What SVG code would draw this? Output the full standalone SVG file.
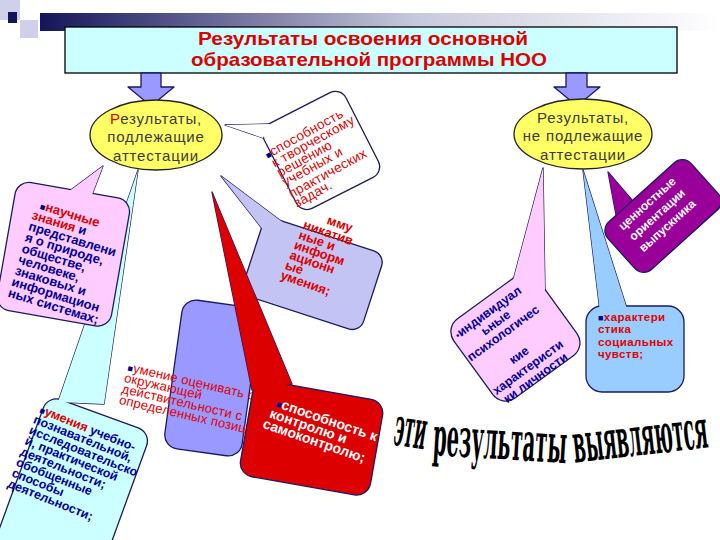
<svg xmlns="http://www.w3.org/2000/svg" width="720" height="540" viewBox="0 0 720 540">
<defs>
<linearGradient id="bar" x1="0" x2="1" y1="0" y2="0">
<stop offset="0" stop-color="#14145a"/>
<stop offset="0.55" stop-color="#c8c8dc"/>
<stop offset="1" stop-color="#ffffff"/>
</linearGradient>
</defs>
<style>
text{font-family:"Liberation Sans","DejaVu Sans",Arial,sans-serif}
.ttl{font-size:19px;font-weight:bold;fill:#dd0000;text-anchor:middle}
.ell{font-size:15px;fill:#3a3a3a;text-anchor:middle;letter-spacing:0.8px}
.ln{stroke:#1a1a60;stroke-width:1.3;stroke-linejoin:round}
.nl{stroke:none}
.bt{font-size:12.5px;font-weight:bold;fill:#00009a}
.bt2{font-size:13px;font-weight:bold;fill:#00009a}
.rt{font-size:13px;font-weight:bold;fill:#e00000}
.rs{font-size:11.5px;font-weight:bold;fill:#e00000;letter-spacing:0.4px}
.rn{font-size:13px;fill:#e00000;letter-spacing:0.2px}
.rw{font-size:13.5px;fill:#e00000;letter-spacing:0.3px}
.wt{font-size:14px;font-weight:bold;fill:#ffffff}
.wt2{font-size:12px;font-weight:bold;fill:#ffffff;text-anchor:middle}
.r{fill:#e00000}
.bul{fill:#000080;font-size:9px}
.big{font-family:"DejaVu Serif","Liberation Serif",serif;font-weight:bold;font-size:54px;fill:#000;text-anchor:middle}
.pink{fill:#ffccff}
.cyan{fill:#ccffff}
.lav{fill:#c4c4f4}
.peri{fill:#9999ff}
.redf{fill:#dd0000}
.lb{fill:#99ccff}
.pur{fill:#990099}
.wf{fill:#ffffff}
</style>
<rect width="720" height="540" fill="#ffffff"/>
<g id="decor">
<rect x="40" y="13" width="680" height="18" fill="url(#bar)"/>
<rect x="0" y="0" width="20" height="20" fill="#d0d0ea"/>
<rect x="20" y="20" width="18" height="18" fill="#d0d0ea"/>
<rect x="8" y="12" width="9" height="11" fill="#14145a"/>
</g>
<g id="title">
<rect x="65" y="27" width="612" height="46" fill="#ccffff" stroke="#000" stroke-width="1.3"/>
<text class="ttl" x="363" y="45" textLength="330" lengthAdjust="spacingAndGlyphs">Результаты освоения основной</text>
<text class="ttl" x="369" y="66" textLength="356" lengthAdjust="spacingAndGlyphs">образовательной программы НОО</text>
</g>
<g id="connectors">
<polygon class="peri ln" points="141,73 161,73 161,87 174,87 151,106 128,87 141,87"/>
<polygon class="peri ln" points="566,73 587,73 587,87 600,87 577,106 554,87 566,87"/>
</g>
<g id="cyan-callout">
<polygon class="cyan ln" points="138,170 58,402 104,404"/>
<g transform="translate(48,395) rotate(20)"><rect class="cyan ln" x="0" y="0" width="110" height="175" rx="14"/></g>
<polygon class="cyan nl" points="138,170 58,402 104,404"/>
<g transform="translate(48,395) rotate(22)">
<text class="bt" x="-2" y="20"><tspan class="bul">■</tspan><tspan class="r">умения</tspan> учебно-</text>
<text class="bt" x="-4" y="31.5">познавательной,</text>
<text class="bt" x="-4" y="43">исследовательско</text>
<text class="bt" x="-4" y="54.5">й, практической</text>
<text class="bt" x="-4" y="66">деятельности;</text>
<text class="bt" x="-4" y="77.5">обобщенные</text>
<text class="bt" x="-4" y="89">способы</text>
<text class="bt" x="-4" y="100.5">деятельности;</text>
</g>
</g>
<g id="ellipse-left">
<ellipse cx="156" cy="135" rx="66" ry="35" fill="#ffff66" stroke="#222" stroke-width="1.3"/>
<text class="ell" x="156" y="124"><tspan fill="#e00000">Р</tspan>езультаты,</text>
<text class="ell" x="156" y="142">подлежащие</text>
<text class="ell" x="156" y="161">аттестации</text>
</g>
<g id="ellipse-right">
<ellipse cx="583" cy="134" rx="69" ry="35" fill="#ffff66" stroke="#222" stroke-width="1.3"/>
<text class="ell" x="583" y="123">Результаты,</text>
<text class="ell" x="583" y="141">не подлежащие</text>
<text class="ell" x="583" y="160">аттестации</text>
</g>
<g id="pink-left">
<polygon class="pink ln" points="103,166 60,198 90,200"/>
<g transform="translate(62,256) rotate(10)"><rect class="pink ln" x="-57" y="-67" width="116" height="130" rx="14"/></g>
<polygon class="pink nl" points="103,166 60,198 90,200"/>
<g transform="translate(62,258) rotate(17)">
<text class="bt2" x="-36" y="-40"><tspan class="bul">■</tspan><tspan class="r">научные</tspan></text>
<text class="bt2" x="-41" y="-28.4"><tspan class="r">знания</tspan> и</text>
<text class="bt2" x="-41" y="-16.8">представлени</text>
<text class="bt2" x="-41" y="-5.2">я о природе,</text>
<text class="bt2" x="-41" y="6.4">обществе,</text>
<text class="bt2" x="-41" y="18">человеке,</text>
<text class="bt2" x="-41" y="29.6">знаковых и</text>
<text class="bt2" x="-41" y="41.2">информацион</text>
<text class="bt2" x="-41" y="52.8">ных системах;</text>
</g>
</g>
<g id="lavender-callout">
<polygon class="lav ln" points="221,176 264,231 285,224"/>
<g transform="translate(313,270) rotate(18)"><rect class="lav ln" x="-62" y="-37" width="126" height="82" rx="12"/></g>
<polygon class="lav nl" points="221,176 264,231 285,224"/>
<g transform="translate(313,268) rotate(19)">
<text class="rt" x="-2" y="-46">мму</text>
<text class="rt" x="-23" y="-34">никатив</text>
<text class="rt" x="-24" y="-23">ные и</text>
<text class="rt" x="-25" y="-12">информ</text>
<text class="rt" x="-26" y="-1">ационн</text>
<text class="rt" x="-27" y="10">ые</text>
<text class="rt" x="-28" y="21">умения;</text>
</g>
</g>
<g id="white-callout">
<polygon class="wf ln" points="225,125 263,138 270,124"/>
<g transform="translate(321,150) rotate(-27)"><rect class="wf ln" x="-46" y="-47" width="92" height="95" rx="12"/></g>
<polygon class="wf nl" points="225,125 263,138 270,124"/>
<g transform="translate(321,150) rotate(-29)">
<text class="rw" x="-51" y="-18"><tspan class="bul">■</tspan>способность</text>
<text class="rw" x="-49" y="-7">к творческому</text>
<text class="rw" x="-49" y="4">решению</text>
<text class="rw" x="-49" y="15">учебных и</text>
<text class="rw" x="-49" y="28">практических</text>
<text class="rw" x="-49" y="39">задач.</text>
</g>
</g>
<g id="periwinkle-box">
<g transform="translate(212,378) rotate(8)"><rect class="peri ln" x="-39" y="-75" width="78" height="150" rx="14"/></g>
</g>
<g id="evaluate-text">
<g transform="translate(128,367) rotate(13)">
<text class="rn" x="0" y="4"><tspan class="bul">■</tspan>умение оценивать об</text>
<text class="rn" x="-1" y="15.3">окружающей</text>
<text class="rn" x="-1" y="26.6">действительности с</text>
<text class="rn" x="-1" y="37.9">определенных позиций;</text>
</g>
</g>
<g id="red-callout">
<polygon class="redf ln" points="212,192 252,390 292,384"/>
<g transform="translate(315,430) rotate(10)"><rect class="redf ln" x="-68" y="-40" width="132" height="97" rx="14"/></g>
<polygon class="redf nl" points="212,192 252,390 292,384"/>
<g transform="translate(315,430) rotate(19)">
<text class="wt" x="-45" y="-9"><tspan class="bul">■</tspan>способность к</text>
<text class="wt" x="-48" y="3">контролю и</text>
<text class="wt" x="-51" y="15">самоконтролю;</text>
</g>
</g>
<g id="purple-callout">
<polygon class="pur ln" points="608,172 616,215 632,200"/>
<g transform="translate(663,216) rotate(-42)"><rect class="pur ln" x="-56" y="-32" width="112" height="64" rx="12"/></g>
<polygon class="pur nl" points="608,172 616,215 632,200"/>
<g transform="translate(662,217) rotate(-42)">
<text class="wt2" x="-2" y="-16">ценностные</text>
<text class="wt2" x="-2" y="-1">ориентации</text>
<text class="wt2" x="-2" y="14">выпускника</text>
</g>
</g>
<g id="pink-right">
<polygon class="pink ln" points="543,168 510,292 545,290"/>
<g transform="translate(516,338) rotate(-36)"><rect class="pink ln" x="-52" y="-50" width="104" height="98" rx="16"/></g>
<polygon class="pink nl" points="543,168 510,292 545,290"/>
<g transform="translate(518,340) rotate(-36)">
<text class="bt" x="-8" y="-36" text-anchor="middle"><tspan class="bul">•</tspan>индивидуал</text>
<text class="bt" x="-8" y="-23" text-anchor="middle">ьные</text>
<text class="bt" x="-8" y="-10" text-anchor="middle">психологичес</text>
<text class="bt" x="-8" y="17" text-anchor="middle">кие</text>
<text class="bt" x="-8" y="32" text-anchor="middle">характеристи</text>
<text class="bt" x="-8" y="45" text-anchor="middle">ки личности</text>
</g>
</g>
<g id="lightblue-callout">
<polygon class="lb ln" points="583,170 600,312 628,312"/>
<rect class="lb ln" x="586" y="306" width="98" height="86" rx="16"/>
<polygon class="lb nl" points="583,170 600,312 628,312"/>
<text class="rs" x="598" y="321"><tspan class="bul">■</tspan>характери</text>
<text class="rs" x="598" y="333.3">стика</text>
<text class="rs" x="598" y="345.6">социальных</text>
<text class="rs" x="598" y="357.9">чувств;</text>
</g>
<g id="caption">
<text class="big" transform="translate(408,447) rotate(9) scale(0.33,1)" textLength="97" lengthAdjust="spacingAndGlyphs">эти</text>
<text class="big" transform="translate(499,459) rotate(3.5) scale(0.33,1)" textLength="406" lengthAdjust="spacingAndGlyphs">результаты</text>
<text class="big" transform="translate(642,455) rotate(-6.5) scale(0.33,1)" textLength="410" lengthAdjust="spacingAndGlyphs">выявляются</text>
</g>
</svg>
